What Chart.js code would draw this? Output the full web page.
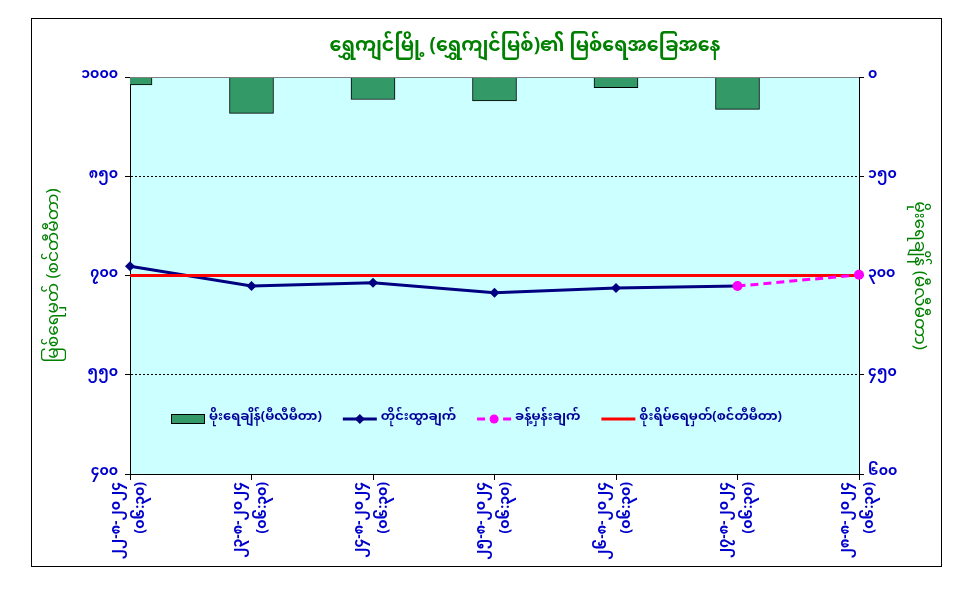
<!DOCTYPE html>
<html>
<head>
<meta charset="utf-8">
<script src="https://cdn.jsdelivr.net/npm/chart.js@4.4.1/dist/chart.umd.min.js"></script>
<style>
  body { margin: 0; background: #fff; overflow: hidden; }
  canvas { display: block; }
</style>
</head>
<body>
<canvas id="river-chart" width="968" height="589"></canvas>
<script>
// Fonts (Myanmar script first, then fallbacks)
var FONT = "'Noto Sans Myanmar', 'Myanmar Text', Padauk, 'Noto Sans', sans-serif";

// Texts
var chartTitle = 'ရွှေကျင်မြို့ (ရွှေကျင်မြစ်)၏ မြစ်ရေအခြေအနေ';
var leftAxisTitle = 'မြစ်ရေမှတ် (စင်တီမီတာ)';
var rightAxisTitle = 'မိုးရေချိန် (မီလီမီတာ)';

// Categories (date + reading time)
var dateLabels = [
    ['၂၂-၈-၂၀၂၄', '(၀၆:၃၀)'],
    ['၂၃-၈-၂၀၂၄', '(၀၆:၃၀)'],
    ['၂၄-၈-၂၀၂၄', '(၀၆:၃၀)'],
    ['၂၅-၈-၂၀၂၄', '(၀၆:၃၀)'],
    ['၂၆-၈-၂၀၂၄', '(၀၆:၃၀)'],
    ['၂၇-၈-၂၀၂၄', '(၀၆:၃၀)'],
    ['၂၈-၈-၂၀၂၄', '(၀၆:၃၀)']
];

// Series
var rainfall = [12, 55, 34, 36, 16, 49, 0];              // mm, right axis
var observed = [714, 684, 689, 674, 681, 684, null];     // cm, left axis
var forecast = [null, null, null, null, null, 684, 701]; // cm, left axis
var dangerLevel = [700, 700, 700, 700, 700, 700, 700];   // cm, left axis

// Tick labels
var leftTickValues = [400, 550, 700, 850, 1000];
var leftTickLabels = ['၄၀၀', '၅၅၀', '၇၀၀', '၈၅၀', '၁၀၀၀'];
var rightTickValues = [0, 150, 300, 450, 600];
var rightTickLabels = ['၀', '၁၅၀', '၃၀၀', '၄၅၀', '၆၀၀'];

var legendLabels = ['မိုးရေချိန်(မီလီမီတာ)', 'တိုင်းထွာချက်', 'ခန့်မှန်းချက်', 'စိုးရိမ်ရေမှတ်(စင်တီမီတာ)'];

// Background, frame and title
var backgroundPlugin = {
    id: 'backgroundPlugin',
    beforeDraw: function(chart) {
        var ctx = chart.ctx;
        var a = chart.chartArea;
        ctx.save();
        ctx.fillStyle = '#ffffff';
        ctx.fillRect(0, 0, chart.width, chart.height);
        ctx.strokeStyle = '#000000';
        ctx.lineWidth = 1;
        ctx.strokeRect(31.5, 18.5, 910, 548);
        ctx.fillStyle = '#ccffff';
        ctx.fillRect(a.left, a.top, a.right - a.left, a.bottom - a.top);
        ctx.fillStyle = '#008000';
        ctx.font = 'bold 19px ' + FONT;
        ctx.textAlign = 'center';
        ctx.textBaseline = 'middle';
        ctx.fillText(chartTitle, 525, 49);
        ctx.restore();
    },
    afterDraw: function(chart) {
        // solid grey top edge of the plot area
        var ctx = chart.ctx;
        var a = chart.chartArea;
        ctx.save();
        ctx.strokeStyle = '#808080';
        ctx.lineWidth = 1;
        ctx.beginPath();
        ctx.moveTo(a.left, Math.round(a.top) + 0.5);
        ctx.lineTo(a.right, Math.round(a.top) + 0.5);
        ctx.stroke();
        ctx.restore();
    }
};

// Legend drawn inside the plot area
var legendPlugin = {
    id: 'legendPlugin',
    afterDatasetsDraw: function(chart) {
        var ctx = chart.ctx;
        var ds = chart.data.datasets;
        var x = 171;
        var y = 419;
        ctx.save();
        ctx.font = 'bold 13px ' + FONT;
        ctx.textBaseline = 'middle';
        ctx.textAlign = 'left';
        for (var i = 0; i < ds.length; i++) {
            var d = ds[i];
            if (d.type === 'bar') {
                ctx.fillStyle = d.backgroundColor;
                ctx.fillRect(x, y - 5, 34, 9);
                ctx.strokeStyle = '#000000';
                ctx.lineWidth = 1;
                ctx.strokeRect(x + 0.5, y - 4.5, 33, 9);
            } else {
                ctx.strokeStyle = d.borderColor;
                ctx.lineWidth = 3;
                ctx.setLineDash(d.borderDash || []);
                ctx.beginPath();
                ctx.moveTo(x, y);
                ctx.lineTo(x + 34, y);
                ctx.stroke();
                ctx.setLineDash([]);
                if (d.pointRadius > 0) {
                    ctx.fillStyle = d.borderColor;
                    ctx.beginPath();
                    if (d.pointStyle === 'rectRot') {
                        ctx.moveTo(x + 17, y - 5);
                        ctx.lineTo(x + 22, y);
                        ctx.lineTo(x + 17, y + 5);
                        ctx.lineTo(x + 12, y);
                        ctx.closePath();
                    } else {
                        ctx.arc(x + 17, y, 4.5, 0, Math.PI * 2);
                    }
                    ctx.fill();
                }
            }
            ctx.fillStyle = '#000099';
            ctx.fillText(d.label, x + 38, y);
            x += 38 + ctx.measureText(d.label).width + 21;
        }
        ctx.restore();
    }
};

var ctx = document.getElementById('river-chart').getContext('2d');

window.riverChart = new Chart(ctx, {
    data: {
        labels: dateLabels,
        datasets: [
            {
                type: 'bar',
                label: legendLabels[0],
                data: rainfall,
                yAxisID: 'yRain',
                backgroundColor: '#339966',
                borderColor: '#000000',
                borderWidth: 1,
                barThickness: 44,
                clip: 0,
                order: 4
            },
            {
                type: 'line',
                label: legendLabels[1],
                data: observed,
                yAxisID: 'yLevel',
                borderColor: '#000080',
                backgroundColor: '#000080',
                borderWidth: 3,
                pointStyle: 'rectRot',
                pointRadius: 5,
                pointBorderWidth: 0,
                spanGaps: false,
                order: 3
            },
            {
                type: 'line',
                label: legendLabels[2],
                data: forecast,
                yAxisID: 'yLevel',
                borderColor: '#ff00ff',
                backgroundColor: '#ff00ff',
                borderWidth: 3,
                borderDash: [8, 5],
                pointStyle: 'circle',
                pointRadius: 5,
                pointBorderWidth: 0,
                order: 1
            },
            {
                type: 'line',
                label: legendLabels[3],
                data: dangerLevel,
                yAxisID: 'yLevel',
                borderColor: '#ff0000',
                backgroundColor: '#ff0000',
                borderWidth: 3,
                pointRadius: 0,
                order: 2
            }
        ]
    },
    options: {
        responsive: false,
        animation: false,
        devicePixelRatio: 1,
        layout: { padding: { top: 77, left: 0, right: 0, bottom: 0 } },
        plugins: {
            legend: { display: false },
            title: { display: false },
            tooltip: { enabled: false }
        },
        scales: {
            x: {
                type: 'category',
                offset: false,
                grid: {
                    offset: false,
                    drawOnChartArea: false,
                    drawTicks: true,
                    tickLength: 6,
                    tickColor: '#000000'
                },
                border: { color: '#000000', width: 1 },
                ticks: {
                    color: '#0000cc',
                    font: { family: FONT, size: 14, weight: 'bold', lineHeight: 1.7 },
                    minRotation: 90,
                    maxRotation: 90,
                    autoSkip: false,
                    padding: 2,
                    labelOffset: -11
                },
                afterFit: function(scale) { scale.height = 115; }
            },
            yLevel: {
                type: 'linear',
                position: 'left',
                min: 400,
                max: 1000,
                afterBuildTicks: function(scale) {
                    scale.ticks = leftTickValues.map(function(v) { return { value: v }; });
                },
                grid: {
                    color: '#000000',
                    lineWidth: 1,
                    tickLength: 5,
                    tickColor: '#000000'
                },
                border: { color: '#000000', width: 1, dash: [2, 2] },
                ticks: {
                    color: '#0000cc',
                    font: { family: FONT, size: 14, weight: 'bold' },
                    padding: 7,
                    callback: function(v) { return leftTickLabels[leftTickValues.indexOf(v)]; }
                },
                title: {
                    display: true,
                    text: leftAxisTitle,
                    color: '#008000',
                    font: { family: FONT, size: 17 },
                    padding: { top: 46, bottom: 0 }
                },
                afterFit: function(scale) { scale.width = 130; }
            },
            yRain: {
                type: 'linear',
                position: 'right',
                reverse: true,
                min: 0,
                max: 600,
                afterBuildTicks: function(scale) {
                    scale.ticks = rightTickValues.map(function(v) { return { value: v }; });
                },
                grid: {
                    drawOnChartArea: false,
                    tickLength: 5,
                    tickColor: '#000000'
                },
                border: { color: '#000000', width: 1 },
                ticks: {
                    color: '#0000cc',
                    font: { family: FONT, size: 14, weight: 'bold' },
                    padding: 4,
                    callback: function(v) { return rightTickLabels[rightTickValues.indexOf(v)]; }
                },
                title: {
                    display: true,
                    text: rightAxisTitle,
                    color: '#008000',
                    font: { family: FONT, size: 17 },
                    padding: { top: 41, bottom: 0 }
                },
                afterFit: function(scale) { scale.width = 109; }
            }
        }
    },
    plugins: [backgroundPlugin, legendPlugin]
});
</script>
</body>
</html>
